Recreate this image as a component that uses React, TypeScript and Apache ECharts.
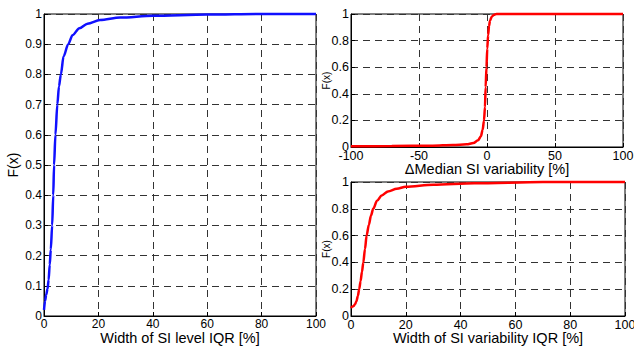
import React, { useEffect, useRef } from "react";
import * as echarts from "echarts";

// Left: Width of SI level IQR CDF (blue)
const levelX = [0, 0.4, 0.8, 1.3, 1.7, 2.1, 2.5, 3.0, 3.4, 3.7, 4.2, 4.9, 5.5, 6.2, 7.2, 8.9, 10.5, 13, 16, 20.6, 28, 40, 60, 80, 100];
const levelY = [0.02, 0.05, 0.07, 0.09, 0.12, 0.17, 0.22, 0.3, 0.4, 0.5, 0.6, 0.7, 0.76, 0.8, 0.86, 0.9, 0.93, 0.953, 0.968, 0.98, 0.988, 0.994, 0.998, 1, 1];

// Top right: ΔMedian SI variability CDF (red)
const medianX = [-100, -70, -40, -25, -15, -10, -6.6, -4.5, -3.2, -2.2, -1.5, -1, -0.4, 0.2, 0.8, 1.5, 2.2, 3.5, 5, 7, 10, 30, 60, 100];
const medianY = [0.005, 0.007, 0.01, 0.015, 0.02, 0.03, 0.05, 0.08, 0.13, 0.2, 0.3, 0.45, 0.6, 0.74, 0.84, 0.91, 0.95, 0.98, 0.993, 1, 1, 1, 1, 1];

// Bottom right: Width of SI variability IQR CDF (red)
const varX = [0, 0.5, 1, 1.5, 2, 2.5, 3.0, 3.5, 4, 4.5, 5.1, 5.7, 6.5, 7.3, 8.1, 9.5, 11.2, 13.5, 16.7, 20, 30, 45, 70, 100];
const varY = [0.06, 0.07, 0.075, 0.09, 0.11, 0.15, 0.2, 0.26, 0.33, 0.4, 0.5, 0.6, 0.68, 0.75, 0.8, 0.86, 0.9, 0.93, 0.95, 0.965, 0.98, 0.99, 1, 1];

const FONT = "Liberation Sans, Arial, sans-serif";

const pairs = (xs: number[], ys: number[]) => xs.map((x, i) => [x, ys[i]]);

const gridLine = {
  show: true,
  lineStyle: { color: "#333", width: 1, type: [7, 5] as any },
};

function xAxis(gridIndex: number, min: number, max: number, interval: number, name: string, nameGap: number, labelSize: number) {
  return {
    type: "value",
    gridIndex,
    min,
    max,
    interval,
    name,
    nameLocation: "middle",
    nameGap,
    nameMoveOverlap: false,
    nameTextStyle: { fontFamily: FONT, fontSize: 14.5, color: "#000", lineHeight: 16 },
    axisLine: { show: true, onZero: false, lineStyle: { color: "#000", width: 1 } },
    axisTick: { show: true, inside: true, length: 4, lineStyle: { color: "#000" } },
    axisLabel: { fontFamily: FONT, fontSize: labelSize, color: "#000", margin: 2 },
    splitLine: gridLine,
  };
}

function yAxis(gridIndex: number, interval: number, nameSize: number, nameGap: number, labelSize: number) {
  return {
    type: "value",
    gridIndex,
    min: 0,
    max: 1,
    interval,
    name: "F(x)",
    nameLocation: "middle",
    nameGap,
    nameMoveOverlap: false,
    nameTextStyle: { fontFamily: FONT, fontSize: nameSize, color: "#000" },
    axisLine: { show: true, onZero: false, lineStyle: { color: "#000", width: 1 } },
    axisTick: { show: true, inside: true, length: 4, lineStyle: { color: "#000" } },
    axisLabel: { fontFamily: FONT, fontSize: labelSize, color: "#000", margin: 2 },
    splitLine: gridLine,
  };
}

const gridBase = { show: true, borderColor: "#000", borderWidth: 1, backgroundColor: "transparent", containLabel: false, outerBoundsMode: "none" };

export default function App() {
  const ref = useRef<HTMLDivElement>(null);
  useEffect(() => {
    if (!ref.current) return;
    const chart = echarts.init(ref.current, null, { renderer: "svg" });
    chart.setOption({
      animation: false,
      backgroundColor: "#fff",
      grid: [
        { ...gridBase, left: 44, top: 14, width: 272, height: 302 },
        { ...gridBase, left: 351, top: 14, width: 272, height: 133 },
        { ...gridBase, left: 351, top: 182, width: 274, height: 134 },
      ],
      xAxis: [
        xAxis(0, 0, 100, 20, "Width of SI level IQR [%]", 14, 12),
        xAxis(1, -100, 100, 50, "\u0394Median SI variability [%]", 14, 12.5),
        xAxis(2, 0, 100, 20, "Width of SI variability IQR [%]", 14, 12.5),
      ],
      yAxis: [yAxis(0, 0.1, 14, 24, 12), yAxis(1, 0.2, 10, 20, 12.5), yAxis(2, 0.2, 10, 20, 12.5)],
      series: [
        {
          type: "line", xAxisIndex: 0, yAxisIndex: 0, data: pairs(levelX, levelY),
          showSymbol: false, smooth: 0.3, smoothMonotone: "x",
          lineStyle: { color: "#1010ff", width: 2.5 }, clip: false,
        },
        {
          type: "line", xAxisIndex: 1, yAxisIndex: 1, data: pairs(medianX, medianY),
          showSymbol: false, smooth: 0.3, smoothMonotone: "x",
          lineStyle: { color: "#ff0000", width: 2.5 }, clip: false,
        },
        {
          type: "line", xAxisIndex: 2, yAxisIndex: 2, data: pairs(varX, varY),
          showSymbol: false, smooth: 0.3, smoothMonotone: "x",
          lineStyle: { color: "#ff0000", width: 2.5 }, clip: false,
        },
      ],
    });
    return () => chart.dispose();
  }, []);
  return <div ref={ref} style={{ width: 634, height: 347, position: "absolute", left: 0, top: 0 }} />;
}
